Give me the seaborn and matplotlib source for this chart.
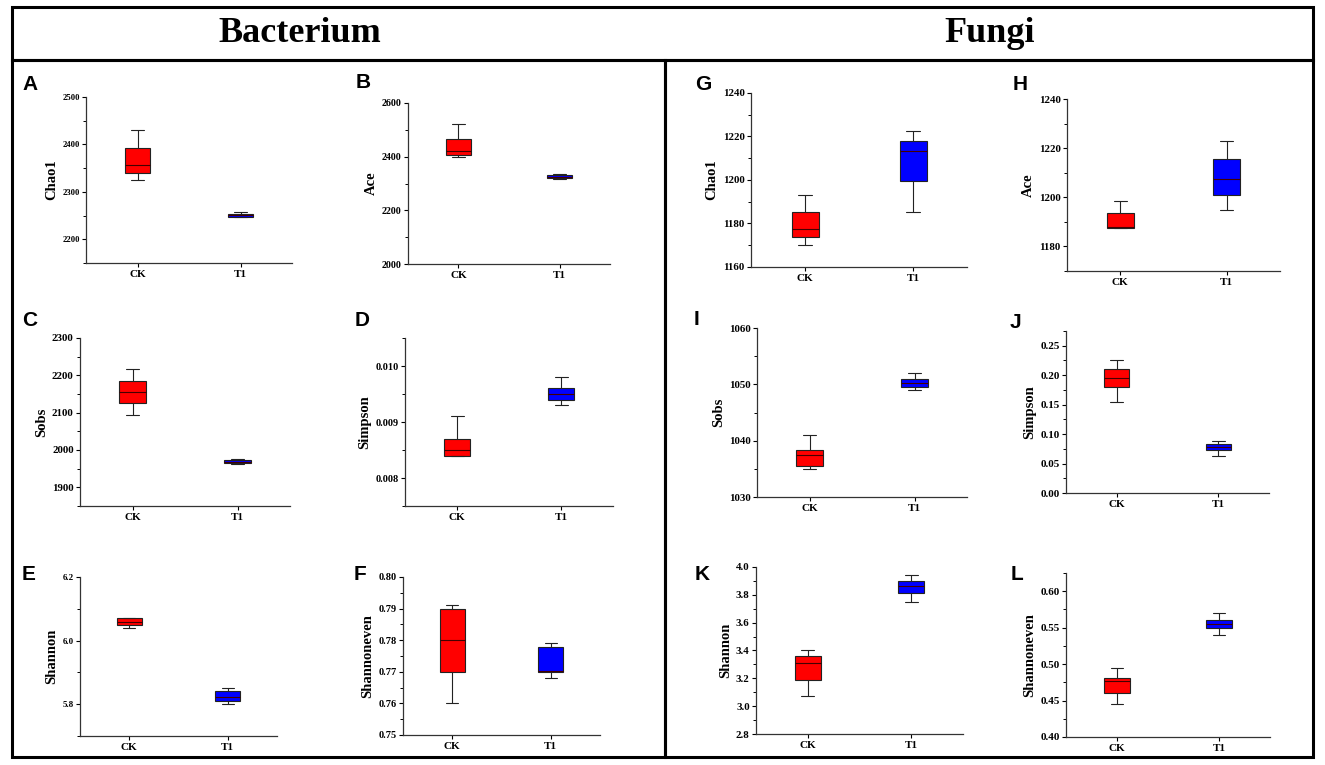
import matplotlib.pyplot as plt
import matplotlib.patches as mpatches
from matplotlib.ticker import AutoMinorLocator, FormatStrFormatter, MultipleLocator
import pandas as pd
import seaborn as sns

W, H = 1325, 765
groups = ['CK', 'T1']
colors = {'CK': '#ff0000', 'T1': '#0000ff'}

# five numbers per box: low whisker, Q1, median, Q3, high whisker
bac_chao1 = {'CK': [2325, 2340, 2357, 2393, 2430], 'T1': [2246, 2248, 2251, 2254, 2258]}
bac_ace = {'CK': [2398, 2408, 2420, 2465, 2520], 'T1': [2318, 2320, 2326, 2332, 2335]}
bac_sobs = {'CK': [2095, 2125, 2155, 2185, 2218], 'T1': [1962, 1965, 1968, 1972, 1975]}
bac_simpson = {'CK': [0.00840, 0.00840, 0.00850, 0.00870, 0.00911],
               'T1': [0.00930, 0.00940, 0.00950, 0.00960, 0.00980]}
bac_shannon = {'CK': [6.041, 6.049, 6.060, 6.072, 6.072], 'T1': [5.800, 5.810, 5.824, 5.840, 5.850]}
bac_even = {'CK': [0.760, 0.770, 0.780, 0.790, 0.791], 'T1': [0.768, 0.770, 0.7702, 0.778, 0.779]}

fun_chao1 = {'CK': [1170, 1174, 1177.5, 1185.5, 1193], 'T1': [1185.5, 1199.5, 1213.5, 1218, 1222.5]}
fun_ace = {'CK': [1187.5, 1187.5, 1188, 1193.5, 1198.5], 'T1': [1195, 1201, 1207.5, 1215.5, 1223]}
fun_sobs = {'CK': [1035, 1035.5, 1037.5, 1038.3, 1041], 'T1': [1049, 1049.5, 1050.3, 1051, 1052]}
fun_simpson = {'CK': [0.155, 0.180, 0.196, 0.210, 0.226], 'T1': [0.063, 0.073, 0.078, 0.083, 0.088]}
fun_shannon = {'CK': [3.07, 3.19, 3.31, 3.36, 3.40], 'T1': [3.75, 3.81, 3.86, 3.90, 3.94]}
fun_even = {'CK': [0.445, 0.460, 0.477, 0.481, 0.494], 'T1': [0.540, 0.550, 0.555, 0.560, 0.570]}

# letter, ylabel, data, ylim, major step, format, pixel box (x0, x1, ytop, ybottom), label pos, tick size
panels = [
    ('A', 'Chao1', bac_chao1, (2150, 2500), 100, '%d', (86, 292, 97, 263), (30, 84), 6.2),
    ('B', 'Ace', bac_ace, (2000, 2600), 200, '%d', (408, 610, 103, 264), (363, 83), 7.2),
    ('C', 'Sobs', bac_sobs, (1850, 2300), 100, '%d', (80, 290, 338, 506), (30, 320), 7.8),
    ('D', 'Simpson', bac_simpson, (0.0075, 0.0105), 0.001, '%.3f', (405, 613, 338, 506), (362, 320), 7.5),
    ('E', 'Shannon', bac_shannon, (5.7, 6.2), 0.2, '%.1f', (80, 277, 577, 736), (29, 574), 6.4),
    ('F', 'Shannoneven', bac_even, (0.75, 0.80), 0.01, '%.2f', (403, 600, 577, 735), (360, 574), 7.5),
    ('G', 'Chao1', fun_chao1, (1160, 1240), 20, '%d', (751, 967, 93, 267), (703, 84), 7.8),
    ('H', 'Ace', fun_ace, (1170, 1240), 20, '%d', (1067, 1280, 99, 271), (1020, 84), 7.8),
    ('I', 'Sobs', fun_sobs, (1030, 1060), 10, '%d', (757, 967, 328, 497), (697, 319), 7.8),
    ('J', 'Simpson', fun_simpson, (0.0, 0.275), 0.05, '%.2f', (1066, 1269, 331, 493), (1015, 322), 8.0),
    ('K', 'Shannon', fun_shannon, (2.8, 4.0), 0.2, '%.1f', (756, 963, 567, 734), (702, 574), 7.8),
    ('L', 'Shannoneven', fun_even, (0.40, 0.625), 0.05, '%.2f', (1066, 1270, 573, 737), (1017, 575), 8.0),
]

sns.set_style('ticks')
plt.rcParams.update({'text.color': 'black', 'axes.labelcolor': 'black',
                     'xtick.color': 'black', 'ytick.color': 'black'})
serif = ['Liberation Serif', 'DejaVu Serif']
sans = ['Liberation Sans', 'DejaVu Sans']

fig = plt.figure(figsize=(W / 100, H / 100), dpi=100)
fig.patch.set_facecolor('white')

for letter, ylabel, vals, ylim, step, fmt, box, lpos, tsize in panels:
    x0, x1, yt, yb = box
    ax = fig.add_axes([x0 / W, 1 - yb / H, (x1 - x0) / W, (yb - yt) / H])
    df = pd.DataFrame({'group': [g for g in groups for _ in vals[g]],
                       'value': [v for g in groups for v in vals[g]]})
    sns.boxplot(data=df, x='group', y='value', hue='group', palette=colors, order=groups,
                hue_order=groups, width=0.25, whis=(0, 100), linecolor='#222222',
                linewidth=0.8, saturation=1, legend=False, ax=ax,
                medianprops={'color': '#440000', 'linewidth': 0.8})
    ax.set_xlim(-0.5, 1.5)
    ax.set_ylim(*ylim)
    ax.yaxis.set_major_locator(MultipleLocator(step))
    ax.yaxis.set_minor_locator(AutoMinorLocator(2))
    ax.yaxis.set_major_formatter(FormatStrFormatter(fmt))
    sns.despine(ax=ax)
    for s in ['left', 'bottom']:
        ax.spines[s].set_linewidth(0.9)
        ax.spines[s].set_color('#333333')
    ax.tick_params(axis='y', which='major', length=3, width=0.8, pad=1.5, labelsize=tsize)
    ax.tick_params(axis='y', which='minor', length=2, width=0.7)
    ax.tick_params(axis='x', length=3, width=0.8, pad=2, labelsize=8)
    for t in ax.get_yticklabels() + ax.get_xticklabels():
        t.set_family(serif)
        t.set_fontweight('bold')
    ax.set_xlabel('')
    ax.set_ylabel(ylabel, family=serif, fontweight='bold', fontsize=10.5, labelpad=3)
    fig.text(lpos[0] / W, 1 - lpos[1] / H, letter, family=sans, fontweight='bold',
             fontsize=15, ha='center', va='center')

# frames around header and the two halves
frames = [(12, 7, 1313, 60), (12, 60, 665, 757), (665, 60, 1313, 757)]
for fx0, fy0, fx1, fy1 in frames:
    fig.add_artist(mpatches.Rectangle((fx0 / W, 1 - fy1 / H), (fx1 - fx0) / W, (fy1 - fy0) / H,
                                      transform=fig.transFigure, fill=False, lw=2.2,
                                      ec='black'))

fig.text(300 / W, 1 - 33 / H, 'Bacterium', family=serif, fontweight='bold', fontsize=26,
         ha='center', va='center')
fig.text(990 / W, 1 - 33 / H, 'Fungi', family=serif, fontweight='bold', fontsize=26,
         ha='center', va='center')

fig.savefig('out.png', dpi=100)
